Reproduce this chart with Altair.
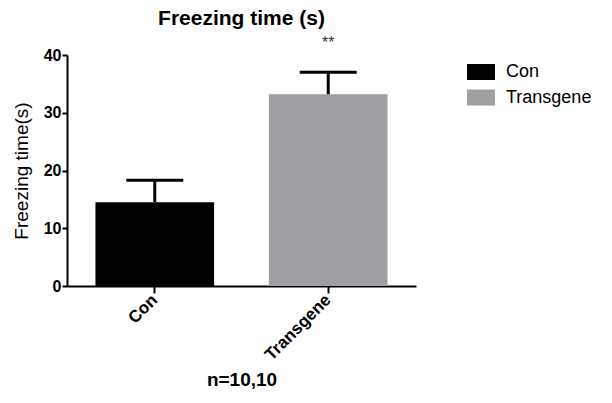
import altair as alt
import pandas as pd

# ---- data ----
groups = ["Con", "Transgene"]
means = [14.5, 33.2]
sems = [3.8, 3.8]
significance = ["", "**"]
colors = ["#000000", "#a09fa4"]
y_ticks = [0, 10, 20, 30, 40]

df = pd.DataFrame({"group": groups, "mean": means, "sem": sems, "sig": significance})
df["upper"] = df["mean"] + df["sem"]

W, H = 349, 231
FONT = "Liberation Sans"

x_axis = alt.Axis(
    title="n=10,10", labelAngle=-45, labelAlign="right", labelBaseline="middle",
    labelFont=FONT, labelFontSize=17, labelFontWeight="bold", labelColor="black",
    labelPadding=4, tickSize=7, tickWidth=2, tickColor="black",
    domainWidth=2, domainColor="black",
    titleFont=FONT, titleFontSize=19, titleFontWeight="bold", titleColor="black",
    titlePadding=8,
)
y_axis = alt.Axis(
    title="Freezing time(s)", values=y_ticks, grid=False,
    labelFont=FONT, labelFontSize=16, labelFontWeight="bold", labelColor="black",
    labelPadding=1, tickSize=5, tickWidth=2, tickColor="black",
    domainWidth=2, domainColor="black",
    titleFont=FONT, titleFontSize=19, titleFontWeight="normal", titleColor="black",
    titlePadding=12,
)

x_enc = alt.X("group:N", sort=groups,
              scale=alt.Scale(paddingInner=0.316, paddingOuter=0.164),
              axis=x_axis)
y_scale = alt.Scale(domain=[0, 40], nice=False)

base = alt.Chart(df)

bars = base.mark_bar().encode(
    x=x_enc,
    y=alt.Y("mean:Q", scale=y_scale, axis=y_axis),
    color=alt.Color(
        "group:N",
        scale=alt.Scale(domain=groups, range=colors),
        legend=alt.Legend(
            title=None, orient="none", legendX=404, legendY=7,
            symbolType="M-1.4,-0.8L1.4,-0.8L1.4,0.8L-1.4,0.8Z",
            symbolSize=400, symbolStrokeWidth=0, symbolOpacity=1,
            labelFont=FONT, labelFontSize=18, labelColor="black",
            labelOffset=15, rowPadding=6.5, padding=0,
        ),
    ),
)

err_line = base.mark_rule(color="black", strokeWidth=3).encode(
    x=x_enc,
    y=alt.Y("mean:Q", scale=y_scale, axis=y_axis),
    y2="upper:Q",
)

err_cap = base.mark_tick(color="black", size=57, thickness=3, opacity=1).encode(
    x=x_enc,
    y=alt.Y("upper:Q", scale=y_scale, axis=y_axis),
)

sig = base.mark_text(font=FONT, fontSize=16, color="#333333", baseline="top", dy=-37).encode(
    x=x_enc,
    y=alt.Y("upper:Q", scale=y_scale, axis=y_axis),
    text="sig:N",
)

chart = alt.layer(bars, err_line, err_cap, sig).properties(
    width=W, height=H,
    title=alt.TitleParams("Freezing time (s)", font=FONT, fontSize=21, fontWeight="bold",
                          anchor="middle", color="black", offset=6),
    padding={"left": 67, "top": 55, "right": 196, "bottom": 117},
    autosize=alt.AutoSizeParams(type="none"),
).configure(background="white", view=alt.ViewConfig(stroke=None))

chart.save("out.html", embed_options={"renderer": "svg", "actions": False})
